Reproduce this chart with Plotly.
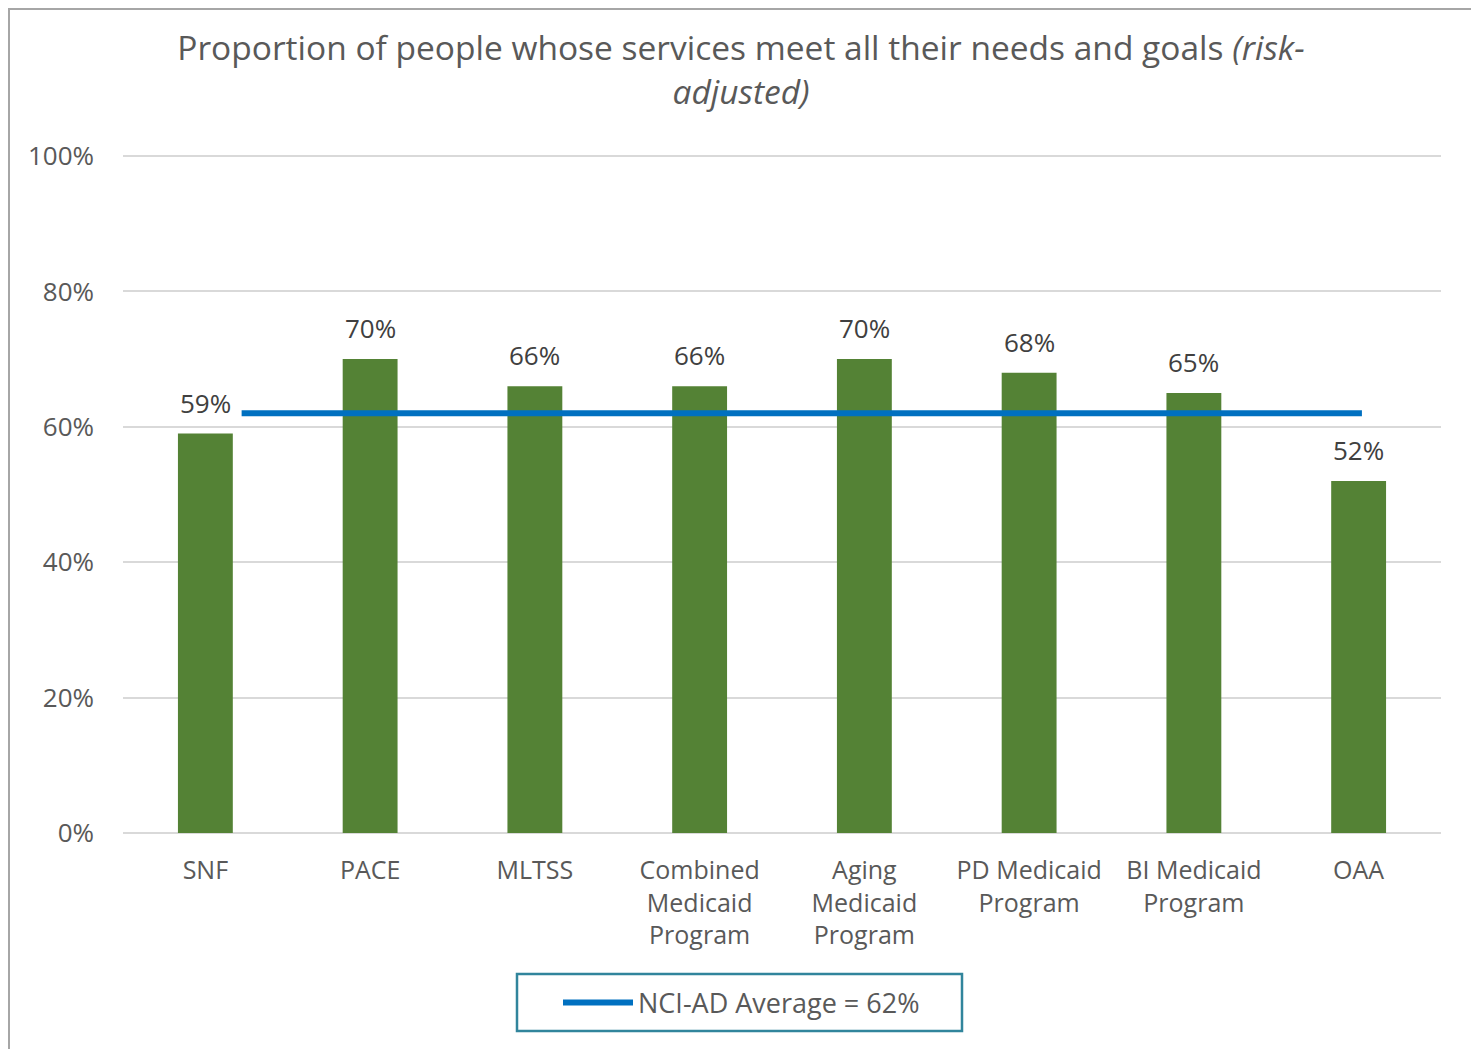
import plotly.graph_objects as go

# ---- data ----
categories = ["SNF", "PACE", "MLTSS", "Combined<br>Medicaid<br>Program", "Aging<br>Medicaid<br>Program",
              "PD Medicaid<br>Program", "BI Medicaid<br>Program", "OAA"]
values = [59, 70, 66, 66, 70, 68, 65, 52]
average_value = 62
average_label = "NCI-AD Average = 62%"
y_ticks = [0, 20, 40, 60, 80, 100]
y_tick_labels = ["0%", "20%", "40%", "60%", "80%", "100%"]

# ---- style / layout constants ----
OFF = 8  # page body margin of the rendered html
PAGE_W, PAGE_H = 1479, 1049
W, H = PAGE_W - OFF, PAGE_H - OFF
PLOT_X0, PLOT_X1, PLOT_Y0, PLOT_Y1 = 123, 1441, 154, 833  # page pixels
L, R, T, B = PLOT_X0 - OFF, PAGE_W - PLOT_X1, PLOT_Y0 - OFF, PAGE_H - PLOT_Y1
PW, PH = W - L - R, H - T - B
BAR_COLOR = "#548235"
LINE_COLOR = "#0070C0"
TEXT_COLOR = "#595959"
LABEL_COLOR = "#404040"
FONT = "Open Sans"
LINE_START_OFFSET = 0.22
LINE_END_OFFSET = 0.02


def px_x(p):  # page pixel -> paper x
    return (p - OFF - L) / PW


def px_y(p):  # page pixel -> paper y
    return (T + PH - (p - OFF)) / PH


idx = list(range(len(categories)))

fig = go.Figure()
fig.add_trace(go.Bar(
    x=idx, y=values, width=0.333, marker=dict(color=BAR_COLOR, line=dict(width=0)),
    showlegend=False, hoverinfo="skip",
))
fig.add_trace(go.Scatter(
    x=[idx[0] + LINE_START_OFFSET, idx[-1] + LINE_END_OFFSET],
    y=[average_value, average_value],
    mode="lines", line=dict(color=LINE_COLOR, width=6),
    name=average_label, showlegend=True, hoverinfo="skip",
))

for i, v in zip(idx, values):
    fig.add_annotation(
        x=i, y=v, text=f"{v}%", showarrow=False,
        yanchor="middle", yshift=31,
        font=dict(family=FONT, size=26, color=LABEL_COLOR),
    )

fig.update_layout(
    width=W, height=H,
    margin=dict(l=L, r=R, t=T, b=B, autoexpand=False),
    paper_bgcolor="white", plot_bgcolor="white",
    font=dict(family=FONT, color=TEXT_COLOR, size=25),
    title=dict(
        text="Proportion of people whose services meet all their needs and goals <i>(risk-</i><br><i>adjusted)</i>",
        x=(741 - OFF) / W, xref="container", xanchor="center",
        y=1 - (60 - OFF) / H, yref="container", yanchor="middle",
        font=dict(family=FONT, size=33.5, color=TEXT_COLOR),
    ),
    xaxis=dict(
        range=[-0.5, len(categories) - 0.5],
        tickmode="array", tickvals=idx, ticktext=categories,
        showgrid=False, zeroline=False, showline=False, ticks="",
        ticklabelstandoff=20,
        tickfont=dict(family=FONT, size=25, color=TEXT_COLOR),
        fixedrange=True,
    ),
    yaxis=dict(
        range=[0, 100.3], tickmode="array", tickvals=y_ticks, ticktext=y_tick_labels,
        showgrid=True, gridcolor="#D9D9D9", gridwidth=2,
        zeroline=True, zerolinecolor="#D9D9D9", zerolinewidth=2,
        showline=False, ticks="", ticklabelstandoff=28,
        tickfont=dict(family=FONT, size=26, color=TEXT_COLOR),
        fixedrange=True,
    ),
    legend=dict(
        orientation="h", x=px_x(558), xanchor="left", y=px_y(1003), yanchor="middle",
        bgcolor="rgba(0,0,0,0)", borderwidth=0, itemwidth=70,
        font=dict(family=FONT, size=27, color=TEXT_COLOR),
    ),
    shapes=[
        dict(type="rect", xref="paper", yref="paper",
             x0=px_x(517), x1=px_x(962), y0=px_y(974), y1=px_y(1031),
             line=dict(color="#31859C", width=2.5), fillcolor="rgba(0,0,0,0)", layer="above"),
        dict(type="rect", xref="paper", yref="paper",
             x0=px_x(OFF + 1), x1=px_x(PAGE_W - 1.5), y0=px_y(OFF + 1), y1=px_y(PAGE_H + 5),
             line=dict(color="#A6A6A6", width=2), fillcolor="rgba(0,0,0,0)", layer="below"),
    ],
)

fig.write_html("out.html")
